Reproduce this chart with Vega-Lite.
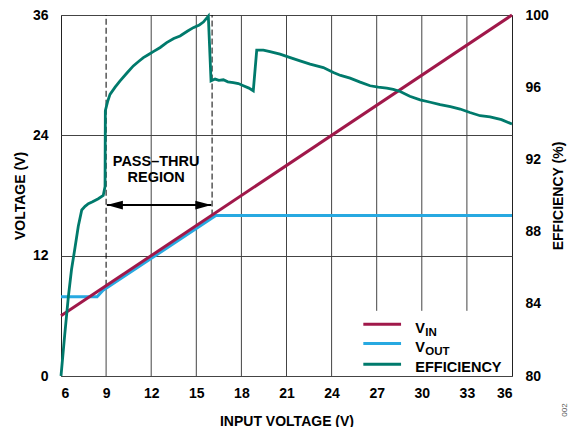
{
  "$schema": "https://vega.github.io/schema/vega-lite/v6.json",
  "width": 451,
  "height": 361,
  "autosize": "none",
  "padding": {"left": 61, "top": 15, "right": 65, "bottom": 51},
  "background": "white",
  "config": {
    "view": {"stroke": "#222", "strokeWidth": 1},
    "font": "Liberation Sans",
    "axis": {
      "labelFont": "Liberation Sans", "labelFontWeight": "bold", "labelFontSize": 14, "labelColor": "#000",
      "titleFont": "Liberation Sans", "titleFontWeight": "bold", "titleFontSize": 14, "titleColor": "#000",
      "ticks": false, "domain": false, "gridColor": "#444", "gridOpacity": 1, "gridWidth": 1
    },
    "text": {"font": "Liberation Sans", "fontWeight": "bold", "color": "#000"}
  },
  "datasets": {
    "volt": [
      {"x": 6, "v": 6, "s": "VIN"}, {"x": 36, "v": 36, "s": "VIN"},
      {"x": 6, "v": 7.9, "s": "VOUT"}, {"x": 8.4, "v": 7.9, "s": "VOUT"}, {"x": 8.8, "v": 8.55, "s": "VOUT"},
      {"x": 16.3, "v": 16.0, "s": "VOUT"}, {"x": 36, "v": 16.0, "s": "VOUT"}
    ],
    "eff": [
      {"x": 6, "e": 80}, {"x": 6.25, "e": 82.3}, {"x": 6.49, "e": 84.4}, {"x": 6.7, "e": 85.9}, {"x": 6.93, "e": 87.1},
      {"x": 7.15, "e": 88.3}, {"x": 7.38, "e": 89.2}, {"x": 7.6, "e": 89.4}, {"x": 7.82, "e": 89.55}, {"x": 8.1, "e": 89.65},
      {"x": 8.48, "e": 89.82}, {"x": 8.81, "e": 90.0}, {"x": 8.93, "e": 90.5}, {"x": 8.95, "e": 94.7}, {"x": 9.1, "e": 95.2},
      {"x": 9.26, "e": 95.6}, {"x": 9.6, "e": 96.0}, {"x": 9.93, "e": 96.35}, {"x": 10.4, "e": 96.8}, {"x": 10.81, "e": 97.18},
      {"x": 11.2, "e": 97.45}, {"x": 11.48, "e": 97.64}, {"x": 11.8, "e": 97.8}, {"x": 12.14, "e": 97.97}, {"x": 12.6, "e": 98.2},
      {"x": 13.03, "e": 98.47}, {"x": 13.5, "e": 98.7}, {"x": 13.92, "e": 98.84}, {"x": 14.4, "e": 99.1}, {"x": 14.8, "e": 99.3},
      {"x": 15.2, "e": 99.45}, {"x": 15.47, "e": 99.61}, {"x": 15.8, "e": 99.94}, {"x": 15.98, "e": 96.35}, {"x": 16.25, "e": 96.45},
      {"x": 16.5, "e": 96.38}, {"x": 16.8, "e": 96.41}, {"x": 17.1, "e": 96.3}, {"x": 17.46, "e": 96.26}, {"x": 17.8, "e": 96.2},
      {"x": 18.13, "e": 96.08}, {"x": 18.5, "e": 95.95}, {"x": 18.79, "e": 95.8}, {"x": 19.02, "e": 98.05}, {"x": 19.46, "e": 98.05},
      {"x": 19.9, "e": 97.97}, {"x": 20.57, "e": 97.83}, {"x": 21.2, "e": 97.65}, {"x": 21.9, "e": 97.46}, {"x": 22.57, "e": 97.28},
      {"x": 23.45, "e": 97.09}, {"x": 24.12, "e": 96.81}, {"x": 24.6, "e": 96.65}, {"x": 25.23, "e": 96.5}, {"x": 25.9, "e": 96.28},
      {"x": 26.56, "e": 96.08}, {"x": 27.1, "e": 96.0}, {"x": 27.67, "e": 95.95}, {"x": 28.1, "e": 95.88}, {"x": 28.56, "e": 95.76},
      {"x": 29.2, "e": 95.5}, {"x": 29.89, "e": 95.3}, {"x": 30.5, "e": 95.18}, {"x": 31.22, "e": 95.03}, {"x": 31.9, "e": 94.92},
      {"x": 32.55, "e": 94.79}, {"x": 33.2, "e": 94.6}, {"x": 33.88, "e": 94.42}, {"x": 34.54, "e": 94.36}, {"x": 35.3, "e": 94.2},
      {"x": 36, "e": 93.96}
    ],
    "grid": [
      {"x": 9, "y1": 0, "y2": 9}, {"x": 12, "y1": 0, "y2": 36}, {"x": 15, "y1": 0, "y2": 36}, {"x": 18, "y1": 0, "y2": 36},
      {"x": 21, "y1": 0, "y2": 36}, {"x": 24, "y1": 0, "y2": 36}, {"x": 27, "y1": 6.5, "y2": 36}, {"x": 30, "y1": 6.5, "y2": 36},
      {"x": 33, "y1": 6.5, "y2": 36}
    ],
    "dash": [{"x": 9, "y1": 9, "y2": 36}, {"x": 16.05, "y1": 16, "y2": 36}],
    "arrow": [{"x1": 9.05, "x2": 16.0, "y": 17.05}],
    "heads": [{"x": 9.05, "y": 17.05, "dir": "left"}, {"x": 16.0, "y": 17.05, "dir": "right"}],
    "notes": [{"x": 12.33, "y": 21.3, "t": "PASS–THRU"}, {"x": 12.33, "y": 19.7, "t": "REGION"}],
    "legline": [
      {"x1": 26.11, "x2": 28.62, "y": 5.17, "s": "VIN"},
      {"x1": 26.11, "x2": 28.62, "y": 3.25, "s": "VOUT"},
      {"x1": 26.11, "x2": 28.62, "y": 1.16, "s": "EFFICIENCY"}
    ],
    "legtext": [
      {"x": 29.57, "y": 4.66, "t": "V"}, {"x": 29.57, "y": 2.84, "t": "V"}, {"x": 29.57, "y": 0.82, "t": "EFFICIENCY"}
    ],
    "legsub": [{"x": 30.23, "y": 4.3, "t": "IN"}, {"x": 30.23, "y": 2.42, "t": "OUT"}],
    "code": [{"x": 39.5, "y": -3.4, "t": "002"}]
  },
  "layer": [
    {
      "layer": [
        {
          "data": {"name": "grid"},
          "mark": {"type": "rule", "color": "#444", "strokeWidth": 1},
          "encoding": {
            "x": {"field": "x", "type": "quantitative", "title": "INPUT VOLTAGE (V)",
              "scale": {"domain": [6, 36], "nice": false, "zero": false},
              "axis": {"values": [6, 9, 12, 15, 18, 21, 24, 27, 30, 33, 36], "grid": false, "labelPadding": 10, "titlePadding": 14}},
            "y": {"field": "y1", "type": "quantitative", "title": "VOLTAGE (V)",
              "scale": {"domain": [0, 36], "nice": false, "zero": false},
              "axis": {"orient": "left", "values": [0, 12, 24, 36], "grid": true, "labelPadding": 13, "titlePadding": 5}},
            "y2": {"field": "y2"}
          }
        },
        {
          "data": {"name": "dash"},
          "mark": {"type": "rule", "color": "#000", "strokeWidth": 1, "strokeDash": [6, 3]},
          "encoding": {
            "x": {"field": "x", "type": "quantitative", "title": "INPUT VOLTAGE (V)"},
            "y": {"field": "y1", "type": "quantitative", "title": "VOLTAGE (V)"},
            "y2": {"field": "y2"}
          }
        },
        {
          "data": {"name": "arrow"},
          "mark": {"type": "rule", "color": "#000", "strokeWidth": 2},
          "encoding": {
            "x": {"field": "x1", "type": "quantitative", "title": "INPUT VOLTAGE (V)"},
            "x2": {"field": "x2"},
            "y": {"field": "y", "type": "quantitative", "title": "VOLTAGE (V)"}
          }
        },
        {
          "data": {"name": "heads"},
          "transform": [{"filter": "datum.dir === 'left'"}],
          "mark": {"type": "point", "filled": true, "color": "#000", "opacity": 1, "size": 256, "shape": "M0,0L2,-0.55L2,0.55Z"},
          "encoding": {
            "x": {"field": "x", "type": "quantitative", "title": "INPUT VOLTAGE (V)"},
            "y": {"field": "y", "type": "quantitative", "title": "VOLTAGE (V)"}
          }
        },
        {
          "data": {"name": "heads"},
          "transform": [{"filter": "datum.dir === 'right'"}],
          "mark": {"type": "point", "filled": true, "color": "#000", "opacity": 1, "size": 256, "shape": "M0,0L-2,-0.55L-2,0.55Z"},
          "encoding": {
            "x": {"field": "x", "type": "quantitative", "title": "INPUT VOLTAGE (V)"},
            "y": {"field": "y", "type": "quantitative", "title": "VOLTAGE (V)"}
          }
        },
        {
          "data": {"name": "notes"},
          "mark": {"type": "text", "fontSize": 14.5, "align": "center", "baseline": "middle"},
          "encoding": {
            "x": {"field": "x", "type": "quantitative", "title": "INPUT VOLTAGE (V)"},
            "y": {"field": "y", "type": "quantitative", "title": "VOLTAGE (V)"},
            "text": {"field": "t"}
          }
        },
        {
          "data": {"name": "volt"},
          "transform": [{"filter": "datum.s === 'VOUT'"}],
          "mark": {"type": "line", "color": "#27A9E1", "strokeWidth": 3},
          "encoding": {
            "x": {"field": "x", "type": "quantitative", "title": "INPUT VOLTAGE (V)"},
            "y": {"field": "v", "type": "quantitative", "title": "VOLTAGE (V)"}
          }
        },
        {
          "data": {"name": "volt"},
          "transform": [{"filter": "datum.s === 'VIN'"}],
          "mark": {"type": "line", "color": "#A0184A", "strokeWidth": 3},
          "encoding": {
            "x": {"field": "x", "type": "quantitative", "title": "INPUT VOLTAGE (V)"},
            "y": {"field": "v", "type": "quantitative", "title": "VOLTAGE (V)"}
          }
        },
        {
          "data": {"name": "legline"},
          "mark": {"type": "rule", "strokeWidth": 3},
          "encoding": {
            "x": {"field": "x1", "type": "quantitative", "title": "INPUT VOLTAGE (V)"},
            "x2": {"field": "x2"},
            "y": {"field": "y", "type": "quantitative", "title": "VOLTAGE (V)"},
            "color": {"field": "s", "type": "nominal", "legend": null,
              "scale": {"domain": ["VIN", "VOUT", "EFFICIENCY"], "range": ["#A0184A", "#27A9E1", "#007A6C"]}}
          }
        },
        {
          "data": {"name": "legtext"},
          "mark": {"type": "text", "fontSize": 14.5, "align": "left", "baseline": "middle"},
          "encoding": {
            "x": {"field": "x", "type": "quantitative", "title": "INPUT VOLTAGE (V)"},
            "y": {"field": "y", "type": "quantitative", "title": "VOLTAGE (V)"},
            "text": {"field": "t"}
          }
        },
        {
          "data": {"name": "legsub"},
          "mark": {"type": "text", "fontSize": 11.5, "align": "left", "baseline": "middle"},
          "encoding": {
            "x": {"field": "x", "type": "quantitative", "title": "INPUT VOLTAGE (V)"},
            "y": {"field": "y", "type": "quantitative", "title": "VOLTAGE (V)"},
            "text": {"field": "t"}
          }
        },
        {
          "data": {"name": "code"},
          "mark": {"type": "text", "fontSize": 8, "fontWeight": "normal", "color": "#555", "angle": 270, "align": "center", "baseline": "middle", "clip": false},
          "encoding": {
            "x": {"field": "x", "type": "quantitative", "title": "INPUT VOLTAGE (V)"},
            "y": {"field": "y", "type": "quantitative", "title": "VOLTAGE (V)"},
            "text": {"field": "t"}
          }
        }
      ]
    },
    {
      "data": {"name": "eff"},
      "mark": {"type": "line", "color": "#007A6C", "strokeWidth": 2.8},
      "encoding": {
        "x": {"field": "x", "type": "quantitative", "title": "INPUT VOLTAGE (V)"},
        "y": {"field": "e", "type": "quantitative", "title": "EFFICIENCY (%)",
          "scale": {"domain": [80, 100], "nice": false, "zero": false},
          "axis": {"orient": "right", "values": [80, 84, 88, 92, 96, 100], "grid": false, "labelPadding": 13, "titlePadding": 3, "titleAngle": 270, "titleBaseline": "top"}}
      }
    }
  ],
  "resolve": {"scale": {"y": "independent"}}
}
